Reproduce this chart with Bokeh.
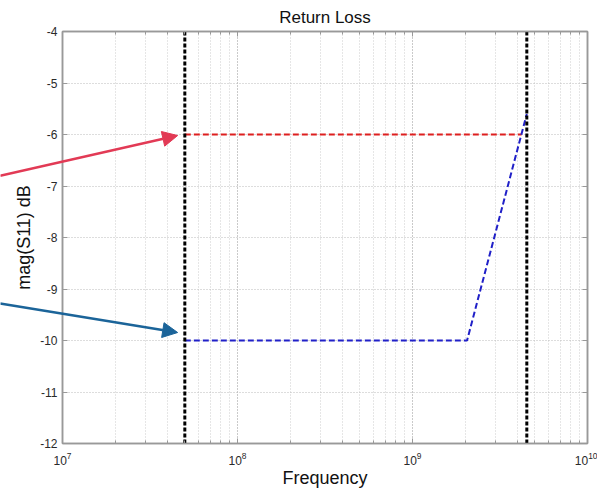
import math
from bokeh.plotting import figure
from bokeh.models import (Range1d, Arrow, NormalHead, LogTicker, FixedTicker,
                          LogAxis, LinearAxis, GridBox, CustomJSTickFormatter)
from bokeh.embed import file_html
from bokeh.resources import INLINE

# data
marker_freqs = [5e7, 4.5e9]
red_x = [5e7, 4.2e9]
red_y = [-6, -6]
blue_x = [5e7, 2.05e9, 4.5e9]
blue_y = [-10, -10, -5.6]
y_ticks = [-12, -11, -10, -9, -8, -7, -6, -5, -4]
x_lo, x_hi = 1e7, 1e10
y_lo, y_hi = -12, -4
# annotation arrows (tail x, tail y, head x, head y)
red_arrow = (4.4e6, -6.80, 4.55e7, -6.02)
blue_arrow = (4.4e6, -9.28, 4.55e7, -9.845)

FONT = "Liberation Sans"
W, H = 597, 490
BL, BR, BT, BB = 62, 10, 31, 47
AX = "#999999"

p = figure(width=W, height=H, x_axis_type="log",
           x_range=Range1d(x_lo, x_hi), y_range=Range1d(y_lo, y_hi),
           output_backend="svg", toolbar_location=None,
           title="Return Loss", min_border_left=BL, min_border_top=BT,
           min_border_right=BR, min_border_bottom=BB)

p.title.align = "center"
p.title.text_font = FONT
p.title.text_font_style = "normal"
p.title.text_font_size = "17px"
p.title.text_color = "#111111"
p.title.offset = 0
p.title.standoff = 10

p.xaxis.ticker = LogTicker(num_minor_ticks=10)
p.yaxis.ticker = FixedTicker(ticks=y_ticks)
p.yaxis.formatter = CustomJSTickFormatter(code="return tick.toString()")
p.xaxis.axis_label = "Frequency"
p.yaxis.axis_label = "mag(S11) dB"

def style_axis(ax):
    ax.axis_line_color = AX
    ax.axis_line_width = 1.5
    ax.major_tick_line_color = AX
    ax.minor_tick_line_color = AX
    ax.major_tick_in = 5
    ax.major_tick_out = 0
    ax.minor_tick_in = 3
    ax.minor_tick_out = 0

for ax in (p.xaxis[0], p.yaxis[0]):
    ax.axis_label_text_font = FONT
    ax.axis_label_text_font_style = "normal"
    ax.axis_label_text_font_size = "18px"
    ax.axis_label_text_color = "#111111"
    ax.major_label_text_font = FONT
    ax.major_label_text_font_size = "12px"
    ax.major_label_text_color = "#2a2a2a"
    style_axis(ax)
p.xaxis.axis_label_standoff = 0
p.yaxis.axis_label_standoff = 3
p.xaxis.major_label_standoff = 8
p.yaxis.major_label_standoff = 5

# mirrored tick marks on top and right (no labels)
blank = CustomJSTickFormatter(code="return ''")
top_ax = LogAxis(ticker=LogTicker(num_minor_ticks=10), formatter=blank,
                 major_label_standoff=0, major_label_text_font_size="1px")
right_ax = LinearAxis(ticker=FixedTicker(ticks=y_ticks), formatter=blank,
                      major_label_standoff=0, major_label_text_font_size="1px")
style_axis(top_ax)
style_axis(right_ax)
p.add_layout(top_ax, "above")
p.add_layout(right_ax, "right")

p.outline_line_color = AX
p.outline_line_width = 1.5
p.xgrid.grid_line_color = "#bbbbbb"
p.xgrid.grid_line_dash = "1 2"
p.xgrid.minor_grid_line_color = "#cccccc"
p.xgrid.minor_grid_line_dash = "1 2"
p.ygrid.grid_line_color = "#bbbbbb"
p.ygrid.grid_line_dash = "1 2"

p.line(red_x, red_y, line_color="#dd1f1f", line_width=2, line_dash="6 3")
p.line(blue_x, blue_y, line_color="#2020c8", line_width=2, line_dash="6 3")
for f in marker_freqs:
    p.line([f, f], [y_lo, y_hi], line_color="black", line_width=3, line_dash="4 2")

# transparent overlay covering the whole canvas, for the callout arrows
px_per_dec = (W - BL - BR) / (math.log10(x_hi) - math.log10(x_lo))
px_per_unit = (H - BT - BB) / (y_hi - y_lo)
ov = figure(width=W, height=H, x_axis_type="log",
            x_range=Range1d(10 ** (math.log10(x_lo) - BL / px_per_dec),
                            10 ** (math.log10(x_hi) + BR / px_per_dec)),
            y_range=Range1d(y_lo - BB / px_per_unit, y_hi + BT / px_per_unit),
            x_axis_location=None, y_axis_location=None,
            output_backend="svg", toolbar_location=None,
            min_border=0, border_fill_color=None, background_fill_color=None,
            outline_line_color=None, frame_align=False)
ov.grid.visible = False

for (x0, y0, x1, y1), col in ((red_arrow, "#e23a55"), (blue_arrow, "#1b6499")):
    ov.add_layout(Arrow(x_start=x0, y_start=y0, x_end=x1, y_end=y1,
                        line_color=col, line_width=2.5,
                        end=NormalHead(size=15, fill_color=col, line_color=col)))

layout = GridBox(children=[(p, 0, 0), (ov, 0, 0)])

open("out.html", "w").write(file_html(layout, INLINE))
